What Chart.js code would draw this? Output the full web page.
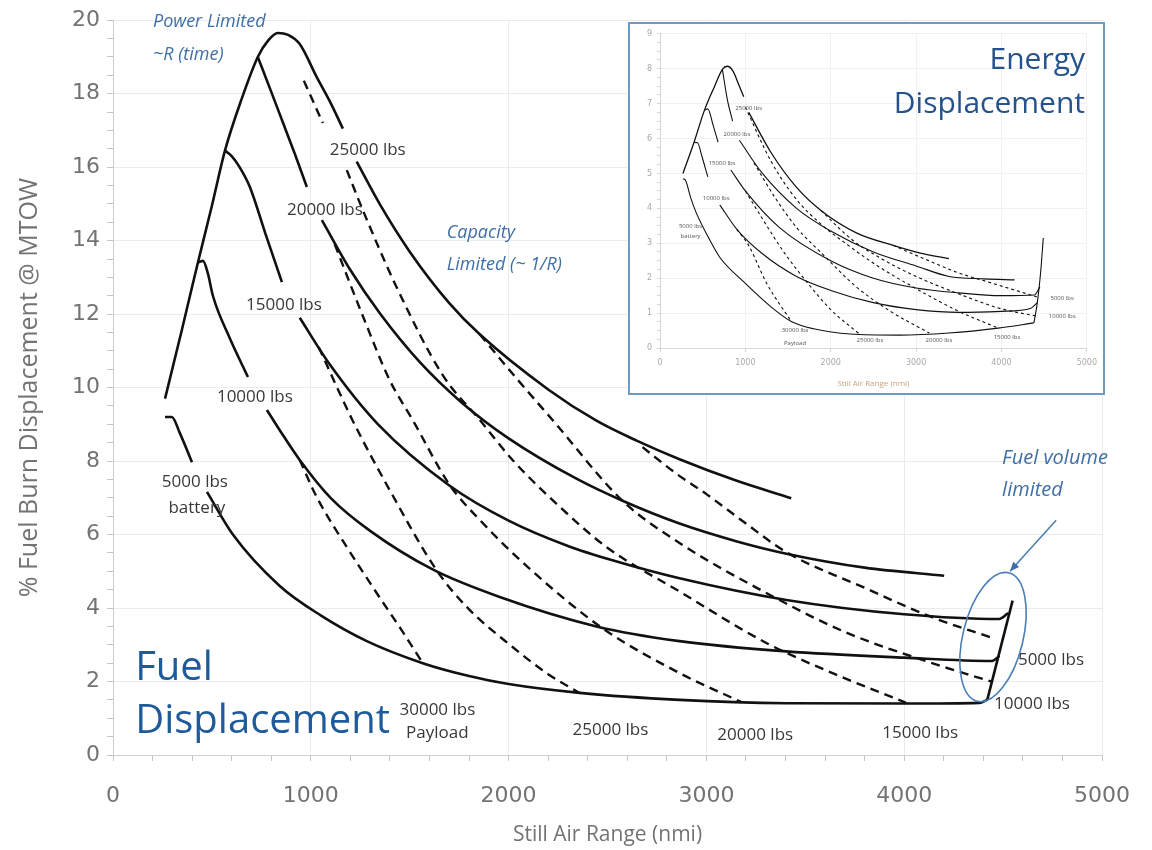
<!DOCTYPE html>
<html>
<head>
<meta charset="utf-8">
<script src="https://cdn.jsdelivr.net/npm/chart.js@4.4.1/dist/chart.umd.min.js"></script>
<style>
  html, body { margin: 0; padding: 0; background: #fff; }
  #wrap { position: relative; width: 1152px; height: 850px; overflow: hidden; }
  #main { position: absolute; left: 0; top: 0; }
  #insetBox { position: absolute; left: 628px; top: 22px; width: 473px; height: 369px;
              border: 2px solid #6f9bc2; background: #fff; }
  #inset { display: block; }
</style>
</head>
<body>
<div id="wrap">
  <canvas id="main" width="1152" height="850"></canvas>
  <div id="insetBox"><canvas id="inset" width="473" height="369"></canvas></div>
</div>
<script>
// ---------------------------------------------------------------------------
// Fuel displacement: solid curves per battery weight (range nmi / % MTOW)
// null = break in the line where a label sits
// ---------------------------------------------------------------------------
const bat25X = [263, 345, 429, 500, 566, 650, 732, 785, 833, 885, 944, 1030, 1100, 1162, 1200, 1232, 1348, 1500, 1700, 1854, 2200, 2444, 2650, 2864, 3150, 3429];
const bat25Y = [9.7, 11.5, 13.4, 14.95, 16.45, 17.85, 19.0, 19.45, 19.65, 19.6, 19.35, 18.45, 17.75, 17.05, null, 16.15, 15.0, 13.7, 12.3, 11.45, 9.95, 9.1, 8.55, 8.05, 7.47, 6.99];

const bat20X = [732, 800, 860, 920, 980, 1020, 1056, 1200, 1348, 1550, 1768, 2000, 2343, 2576, 2864, 3150, 3404, 3800, 4202];
const bat20Y = [19.0, 18.05, 17.2, 16.35, 15.46, null, 14.56, 13.2, 12.03, 10.7, 9.57, 8.62, 7.52, 6.92, 6.3, 5.82, 5.48, 5.1, 4.88];

const bat15X = [566, 600, 640, 692, 770, 854, 900, 944, 1100, 1340, 1702, 2000, 2300, 2525, 2864, 3404, 4000, 4480, 4525];
const bat15Y = [16.45, 16.3, 16.0, 15.46, 14.2, 12.87, null, 11.9, 10.6, 9.0, 7.33, 6.38, 5.69, 5.3, 4.81, 4.22, 3.83, 3.7, 3.86];

const bat10X = [429, 455, 480, 505, 590, 682, 730, 778, 843, 944, 1100, 1300, 1616, 1955, 2444, 2864, 3404, 4000, 4444, 4482];
const bat10Y = [13.4, 13.45, 13.1, 12.5, 11.35, 10.29, null, 9.39, 8.84, 8.03, 7.0, 6.1, 5.05, 4.3, 3.5, 3.1, 2.82, 2.65, 2.56, 2.7];

const bat5X = [263, 297, 338, 399, 440, 475, 606, 843, 1050, 1283, 1566, 1800, 2000, 2359, 2864, 3404, 4000, 4380, 4420];
const bat5Y = [9.2, 9.2, 8.76, 7.97, null, 7.16, 6.0, 4.6, 3.8, 3.1, 2.5, 2.15, 1.93, 1.69, 1.5, 1.41, 1.4, 1.42, 1.5];

// fuel volume limit
const fuelX = [4420, 4548];
const fuelY = [1.5, 4.2];

// dashed curves of constant payload
const pay30X = [944, 1030, 1182, 1333, 1465, 1566];
const pay30Y = [8.03, 7.02, 5.66, 4.41, 3.35, 2.5];

const pay25X = [1040, 1212, 1400, 1636, 1788, 2020, 2200, 2359];
const pay25Y = [11.1, 9.1, 7.2, 5.03, 4.03, 2.94, 2.2, 1.69];

const pay20X = [1121, 1263, 1399, 1515, 1702, 1854, 2100, 2475, 2864, 3177];
const pay20Y = [13.9, 11.95, 10.2, 9.12, 7.35, 6.4, 5.1, 3.45, 2.23, 1.44];

const pay15X = [965, 1061, 1120, 1182, 1263, 1434, 1667, 1854, 2020, 2250, 2495, 2864, 3303, 3650, 4010];
const pay15Y = [18.35, 17.2, null, 15.92, 14.83, 12.73, 10.34, 9.12, 8.03, 6.8, 5.66, 4.45, 3.05, 2.2, 1.42];

const pay10X = [1854, 2040, 2222, 2576, 2864, 3303, 3700, 4141, 4440];
const pay10Y = [11.45, 10.25, 9.12, 6.92, 5.77, 4.41, 3.35, 2.5, 2.0];

const pay5X = [2677, 2850, 3000, 3200, 3404, 3800, 4141, 4450];
const pay5Y = [8.38, 7.65, 7.1, 6.3, 5.52, 4.55, 3.75, 3.18];

// ---------------------------------------------------------------------------
// Energy displacement (inset), same families
// ---------------------------------------------------------------------------
const eBat25X = [269, 400, 519, 640, 731, 788, 850, 930, 981, 1010, 1040, 1300, 1600, 1885, 2300, 2731, 3050, 3385];
const eBat25Y = [5.0, 5.9, 6.8, 7.5, 7.98, 8.07, 7.95, 7.5, 7.2, null, 6.75, 5.6, 4.6, 3.94, 3.3, 2.94, 2.72, 2.56];

const eBat20X = [731, 790, 850, 880, 930, 1200, 1600, 2000, 2500, 3000, 3385, 3800, 4154];
const eBat20Y = [7.98, 7.1, 6.5, null, 5.95, 5.0, 4.0, 3.35, 2.75, 2.35, 2.05, 1.98, 1.95];

const eBat15X = [519, 560, 620, 680, 730, 830, 1000, 1400, 2000, 2500, 3000, 3500, 4000, 4385, 4450];
const eBat15Y = [6.8, 6.85, 6.4, 5.9, null, 5.1, 4.5, 3.45, 2.5, 2.0, 1.72, 1.58, 1.5, 1.52, 1.75];

const eBat10X = [404, 440, 490, 560, 640, 700, 900, 1200, 1600, 2000, 2500, 3000, 3500, 4000, 4346, 4420];
const eBat10Y = [5.89, 5.88, 5.5, 4.9, null, 4.1, 3.4, 2.7, 2.05, 1.65, 1.3, 1.1, 1.02, 1.05, 1.14, 1.3];

const eBat5X = [269, 300, 360, 420, 560, 700, 1000, 1300, 1538, 1800, 2231, 2800, 3385, 3962, 4380];
const eBat5Y = [4.85, 4.8, 4.3, 3.9, 3.2, 2.6, 1.85, 1.18, 0.76, 0.55, 0.4, 0.37, 0.43, 0.57, 0.72];

const eFuelX = [4380, 4420, 4460, 4490];
const eFuelY = [0.72, 1.3, 2.2, 3.15];

const ePay30X = [900, 1038, 1250, 1538];
const ePay30Y = [3.4, 2.94, 1.85, 0.76];
const ePay25X = [1000, 1200, 1450, 1700, 2000, 2346];
const ePay25Y = [4.5, 3.7, 2.75, 1.95, 1.1, 0.38];
const ePay20X = [1100, 1350, 1600, 1900, 2300, 2700, 3154];
const ePay20Y = [5.3, 4.3, 3.45, 2.7, 1.75, 1.05, 0.43];
const ePay15X = [1000, 1300, 1600, 1885, 2200, 2550, 3000, 3500, 3962];
const ePay15Y = [6.9, 5.35, 4.25, 3.55, 2.95, 2.35, 1.7, 1.05, 0.57];
const ePay10X = [1885, 2250, 2600, 3000, 3500, 4000, 4400];
const ePay10Y = [3.94, 3.1, 2.55, 2.05, 1.55, 1.12, 0.92];
const ePay5X = [2731, 3100, 3500, 3900, 4300, 4430];
const ePay5Y = [2.94, 2.55, 2.15, 1.85, 1.55, 1.45];

// Curve labels: [text, range, value]
const mainLabels = [
	['25000 lbs', 1288, 16.46], ['20000 lbs', 1071, 14.83], ['15000 lbs', 864, 12.24],
	['10000 lbs', 717, 9.74], ['5000 lbs', 414, 7.43], ['battery', 424, 6.72],
	['30000 lbs', 1640, 1.22], ['Payload', 1640, 0.6], ['25000 lbs', 2515, 0.68],
	['20000 lbs', 3247, 0.54], ['15000 lbs', 4081, 0.6], ['5000 lbs', 4742, 2.59],
	['10000 lbs', 4646, 1.39]
];
const insetLabels = [
	['25000 lbs', 1039, 6.87], ['20000 lbs', 901, 6.13], ['15000 lbs', 727, 5.3],
	['10000 lbs', 658, 4.3], ['5000 lbs', 358, 3.5], ['battery', 358, 3.19],
	['30000 lbs', 1582, 0.51], ['Payload', 1582, 0.14], ['25000 lbs', 2460, 0.23],
	['20000 lbs', 3268, 0.23], ['15000 lbs', 4065, 0.31], ['5000 lbs', 4711, 1.42],
	['10000 lbs', 4711, 0.91]
];

//======================================================================================================
// helpers
//======================================================================================================
function pairs(xs, ys)
{
	return xs.map(function(x, i) { return { x: x, y: ys[i] }; });
}

function curve(label, xs, ys, width, dash)
{
	return {
		label:                  label,
		data:                   pairs(xs, ys),
		showLine:               true,
		borderColor:            '#111',
		borderWidth:            width,
		borderDash:             dash || [],
		pointRadius:            0,
		fill:                   false,
		spanGaps:               false,
		cubicInterpolationMode: 'monotone'
	};
}

function isMultiple(v, step)
{
	return Math.abs(v / step - Math.round(v / step)) < 1e-6;
}

//======================================================================================================
// main chart: fuel displacement
//======================================================================================================
const BLUE_NOTE = '#3f6fa6';

const mainNotes = {
	id: 'mainNotes',
	afterDraw: function(chart) {
		const ctx = chart.ctx, sx = chart.scales.x, sy = chart.scales.y;
		const px = function(v) { return sx.getPixelForValue(v); };
		const py = function(v) { return sy.getPixelForValue(v); };
		ctx.save();

		// battery / payload labels
		ctx.fillStyle = '#383838';
		ctx.font = '17px "Open Sans"';
		ctx.textAlign = 'center';
		ctx.textBaseline = 'middle';
		mainLabels.forEach(function(l) { ctx.fillText(l[0], px(l[1]), py(l[2])); });

		// italic notes
		ctx.fillStyle = BLUE_NOTE;
		ctx.font = 'italic 18px "Open Sans"';
		ctx.textAlign = 'left';
		ctx.fillText('Power Limited', px(202), py(19.95));
		ctx.fillText('~R (time)', px(202), py(19.05));
		ctx.fillText('Capacity', px(1687), py(14.2));
		ctx.fillText('Limited (~ 1/R)', px(1687), py(13.33));
		ctx.font = 'italic 20px "Open Sans"';
		ctx.fillText('Fuel volume', px(4495), py(8.08));
		ctx.fillText('limited', px(4495), py(7.21));

		// ellipse round the fuel volume limit
		const cx = px(4449), cy = py(3.21);
		const rx = px(4449 + 152) - cx, ry = cy - py(3.21 + 1.8);
		ctx.strokeStyle = '#4a7fb5';
		ctx.lineWidth = 1.6;
		ctx.beginPath();
		ctx.ellipse(cx, cy, rx, ry, 0.24, 0, Math.PI * 2);
		ctx.stroke();

		// arrow pointing at it
		const x0 = px(4768), y0 = py(6.39), x1 = px(4535), y1 = py(5.0);
		const a = Math.atan2(y1 - y0, x1 - x0);
		ctx.beginPath();
		ctx.moveTo(x0, y0);
		ctx.lineTo(x1, y1);
		ctx.stroke();
		ctx.fillStyle = '#3d6fa6';
		ctx.beginPath();
		ctx.moveTo(x1, y1);
		ctx.lineTo(x1 - 10 * Math.cos(a - 0.4), y1 - 10 * Math.sin(a - 0.4));
		ctx.lineTo(x1 - 10 * Math.cos(a + 0.4), y1 - 10 * Math.sin(a + 0.4));
		ctx.closePath();
		ctx.fill();

		// big title
		ctx.fillStyle = '#1f5b9a';
		ctx.font = '40px "Open Sans"';
		ctx.textBaseline = 'alphabetic';
		ctx.fillText('Fuel', px(112), py(2.04));
		ctx.fillText('Displacement', px(112), py(0.6));
		ctx.restore();
	}
};

const mainChart = new Chart(document.getElementById('main'), {
	type: 'scatter',
	data: {
		datasets: [
			curve('25000 lbs battery', bat25X, bat25Y, 2.6),
			curve('20000 lbs battery', bat20X, bat20Y, 2.6),
			curve('15000 lbs battery', bat15X, bat15Y, 2.6),
			curve('10000 lbs battery', bat10X, bat10Y, 2.6),
			curve('5000 lbs battery',  bat5X,  bat5Y,  2.6),
			curve('fuel volume',       fuelX,  fuelY,  2.6),
			curve('30000 lbs payload', pay30X, pay30Y, 2.4, [9, 6]),
			curve('25000 lbs payload', pay25X, pay25Y, 2.4, [9, 6]),
			curve('20000 lbs payload', pay20X, pay20Y, 2.4, [9, 6]),
			curve('15000 lbs payload', pay15X, pay15Y, 2.4, [9, 6]),
			curve('10000 lbs payload', pay10X, pay10Y, 2.4, [9, 6]),
			curve('5000 lbs payload',  pay5X,  pay5Y,  2.4, [9, 6])
		]
	},
	options: {
		responsive: false,
		animation:  false,
		layout:     { padding: { top: 20, right: 49, left: 0, bottom: 0 } },
		plugins:    { legend: { display: false }, tooltip: { enabled: false } },
		scales: {
			x: {
				type: 'linear', min: 0, max: 5000,
				ticks: {
					stepSize: 200, autoSkip: false, maxRotation: 0, padding: 22,
					color: '#737373', font: { family: 'DejaVu Sans', size: 22 },
					callback: function(v) { return isMultiple(v, 1000) ? String(Math.round(v)) : ''; }
				},
				grid: {
					color: function(c) { return c.tick && isMultiple(c.tick.value, 1000) ? '#ebebeb' : 'rgba(0,0,0,0)'; },
					tickColor: '#c4c4c4', tickLength: 6
				},
				border: { color: '#cfcfcf' },
				title: {
					display: true, text: 'Still Air Range (nmi)', color: '#737373',
					font: { family: 'Open Sans', size: 21 }, padding: { top: 0, bottom: 2 }
				},
				afterFit: function(s) { s.height = 95; }
			},
			y: {
				type: 'linear', min: 0, max: 20,
				ticks: {
					stepSize: 0.5, autoSkip: false, padding: 7,
					color: '#737373', font: { family: 'DejaVu Sans', size: 22 },
					callback: function(v) { return isMultiple(v, 2) ? String(Math.round(v)) : ''; }
				},
				grid: {
					color: function(c) { return c.tick && isMultiple(c.tick.value, 2) ? '#ebebeb' : 'rgba(0,0,0,0)'; },
					tickColor: '#c4c4c4', tickLength: 6
				},
				border: { color: '#cfcfcf' },
				title: {
					display: true, text: '% Fuel Burn Displacement @ MTOW', color: '#737373',
					font: { family: 'Open Sans', size: 25 }, padding: { top: 15, bottom: 0 }
				},
				afterFit: function(s) { s.width = 113; }
			}
		}
	},
	plugins: [mainNotes]
});

//======================================================================================================
// inset chart: energy displacement
//======================================================================================================
const insetNotes = {
	id: 'insetNotes',
	afterDraw: function(chart) {
		const ctx = chart.ctx, sx = chart.scales.x, sy = chart.scales.y;
		ctx.save();
		ctx.fillStyle = '#555';
		ctx.font = '6px "Open Sans"';
		ctx.textAlign = 'center';
		ctx.textBaseline = 'middle';
		insetLabels.forEach(function(l) {
			ctx.fillText(l[0], sx.getPixelForValue(l[1]), sy.getPixelForValue(l[2]));
		});
		ctx.fillStyle = '#24528c';
		ctx.font = '30px "Open Sans"';
		ctx.textAlign = 'right';
		ctx.textBaseline = 'alphabetic';
		ctx.fillText('Energy', 455, 45);
		ctx.fillText('Displacement', 455, 89);
		ctx.restore();
	}
};

const insetChart = new Chart(document.getElementById('inset'), {
	type: 'scatter',
	data: {
		datasets: [
			curve('25000 lbs battery', eBat25X, eBat25Y, 1.3),
			curve('20000 lbs battery', eBat20X, eBat20Y, 1.1),
			curve('15000 lbs battery', eBat15X, eBat15Y, 1.1),
			curve('10000 lbs battery', eBat10X, eBat10Y, 1.1),
			curve('5000 lbs battery',  eBat5X,  eBat5Y,  1.1),
			curve('fuel volume',       eFuelX,  eFuelY,  1.1),
			curve('30000 lbs payload', ePay30X, ePay30Y, 1.1, [3, 3]),
			curve('25000 lbs payload', ePay25X, ePay25Y, 1.1, [3, 3]),
			curve('20000 lbs payload', ePay20X, ePay20Y, 1.1, [3, 3]),
			curve('15000 lbs payload', ePay15X, ePay15Y, 1.1, [3, 3]),
			curve('10000 lbs payload', ePay10X, ePay10Y, 1.1, [3, 3]),
			curve('5000 lbs payload',  ePay5X,  ePay5Y,  1.1, [3, 3])
		]
	},
	options: {
		responsive: false,
		animation:  false,
		layout:     { padding: { top: 8, right: 10, left: 0, bottom: 0 } },
		plugins:    { legend: { display: false }, tooltip: { enabled: false } },
		scales: {
			x: {
				type: 'linear', min: 0, max: 5000,
				ticks: {
					stepSize: 1000, maxRotation: 0, padding: 6, color: '#a8a8a8', font: { family: 'DejaVu Sans', size: 8 },
					callback: function(v) { return String(v); }
				},
				grid: { color: '#f1f1f1', tickColor: '#d6d6d6', tickLength: 4 },
				border: { color: '#d6d6d6' },
				title: { display: true, text: 'Still Air Range (nmi)', color: '#c9a27e', font: { family: 'Open Sans', size: 8 }, padding: { top: 2, bottom: 4 } },
				afterFit: function(s) { s.height = 45; }
			},
			y: {
				type: 'linear', min: 0, max: 9,
				ticks: {
					stepSize: 0.25, autoSkip: false, padding: 5, color: '#a8a8a8', font: { family: 'DejaVu Sans', size: 8 },
					callback: function(v) { return isMultiple(v, 1) ? String(Math.round(v)) : ''; }
				},
				grid: {
					color: function(c) { return c.tick && isMultiple(c.tick.value, 1) ? '#f1f1f1' : 'rgba(0,0,0,0)'; },
					tickColor: '#d6d6d6', tickLength: 3
				},
				border: { color: '#d6d6d6' },
				afterFit: function(s) { s.width = 30; }
			}
		}
	},
	plugins: [insetNotes]
});
</script>
</body>
</html>
